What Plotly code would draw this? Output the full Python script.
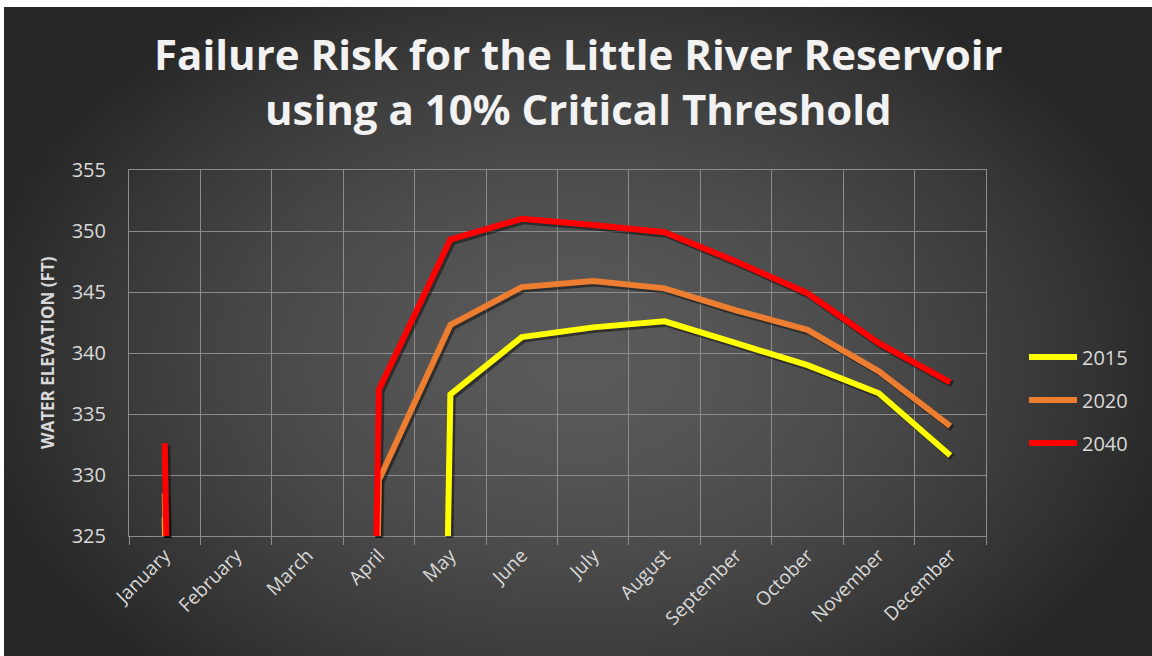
import base64
import struct
import zlib

import numpy as np
import plotly.graph_objects as go

# ---- data -------------------------------------------------------------
months = ["January", "February", "March", "April", "May", "June", "July",
          "August", "September", "October", "November", "December"]
elev_2015 = [326.5, 0, 0, 0, 336.6, 341.3, 342.1, 342.6, 340.8, 339.0, 336.7, 331.6]
elev_2020 = [328.5, 0, 0, 329.6, 342.3, 345.4, 345.9, 345.3, 343.5, 341.9, 338.5, 334.0]
elev_2040 = [332.6, 0, 0, 337.0, 349.3, 351.0, 350.5, 349.9, 347.5, 344.9, 340.8, 337.6]
series = [("2015", elev_2015, "#ffff00"),
          ("2020", elev_2020, "#ed7d31"),
          ("2040", elev_2040, "#ff0000")]

W, H = 1152, 656
PLOT_L, PLOT_R, PLOT_T, PLOT_B = 129, 986, 170, 536
SHADOW = 2  # drop-shadow offset in px


# ---- radial dark background as an inline PNG ---------------------------
def gray_png(arr):
    h, w = arr.shape
    a = arr.astype(np.int16)
    diff = np.empty_like(a)
    diff[:, 0] = a[:, 0]
    diff[:, 1:] = a[:, 1:] - a[:, :-1]
    filt = (diff % 256).astype(np.uint8)
    raw = b"".join(b"\x01" + row.tobytes() for row in filt)

    def chunk(tag, data):
        return (struct.pack(">I", len(data)) + tag + data +
                struct.pack(">I", zlib.crc32(tag + data) & 0xFFFFFFFF))

    ihdr = struct.pack(">IIBBBBB", w, h, 8, 0, 0, 0, 0)
    return (b"\x89PNG\r\n\x1a\n" + chunk(b"IHDR", ihdr) +
            chunk(b"IDAT", zlib.compress(raw, 9)) + chunk(b"IEND", b""))


yy, xx = np.mgrid[0:H, 0:W].astype(float)
r = np.sqrt(((xx - 576) / 620.0) ** 2 + ((yy - 360) / 430.0) ** 2)
bg = 38 + 52 * np.clip(1 - r ** 1.6, 0, 1)
bg = np.clip(bg, 0, 255).astype(np.uint8)
bg[:7, :] = 255
bg[:, :4] = 255
bg_uri = "data:image/png;base64," + base64.b64encode(gray_png(bg)).decode()

# ---- figure -------------------------------------------------------------
fig = go.Figure()

# frame / grid subplot (xy) gets an empty trace so the month categories exist
fig.add_trace(go.Scatter(x=months, y=[None] * len(months), showlegend=False,
                         hoverinfo="skip", xaxis="x", yaxis="y"))

# soft drop shadows on an offset copy of the axes (x2/y2)
for name, vals, color in series:
    fig.add_trace(go.Scatter(
        x=months, y=vals, mode="lines", showlegend=False, hoverinfo="skip",
        line=dict(color="rgba(0,0,0,0.45)", width=7, simplify=False),
        xaxis="x2", yaxis="y2",
    ))

# the series themselves (x3/y3, same placement as the frame)
for name, vals, color in series:
    fig.add_trace(go.Scatter(
        x=months, y=vals, name=name, mode="lines",
        line=dict(color=color, width=6, simplify=False),
        legendgroup=name, xaxis="x3", yaxis="y3",
    ))

grid = "#8c8c8c"
tick_color = "#d9d9d9"
xdom = [PLOT_L / W, PLOT_R / W]
ydom = [1 - PLOT_B / H, 1 - PLOT_T / H]
xdom_s = [(PLOT_L + SHADOW) / W, (PLOT_R + SHADOW) / W]
ydom_s = [1 - (PLOT_B + SHADOW) / H, 1 - (PLOT_T + SHADOW) / H]

hidden_x = dict(type="category", range=[-0.5, 11.5], visible=False, fixedrange=True)
hidden_y = dict(range=[325, 355], visible=False, fixedrange=True)

fig.update_layout(
    width=W, height=H,
    margin=dict(l=0, r=0, t=0, b=0, autoexpand=False),
    paper_bgcolor="#2b2b2b",
    plot_bgcolor="rgba(0,0,0,0)",
    images=[dict(source=bg_uri, xref="paper", yref="paper", x=0, y=1,
                 sizex=1, sizey=1, xanchor="left", yanchor="top",
                 sizing="stretch", layer="below")],
    title=dict(
        text="Failure Risk for the Little River Reservoir<br>using a 10% Critical Threshold",
        font=dict(family="Open Sans", size=42, color="#f2f2f2", weight="bold"),
        x=0.502, xanchor="center", y=1 - 70 / H, yanchor="middle",
    ),
    xaxis=dict(
        domain=xdom, anchor="y",
        type="category", range=[-0.5, 11.5],
        tickson="boundaries", ticks="outside", ticklen=8, tickcolor=grid,
        showgrid=True, gridcolor=grid, gridwidth=1,
        showline=True, linecolor=grid, mirror=True,
        tickangle=-45, tickfont=dict(family="Open Sans", size=19, color=tick_color),
        fixedrange=True,
    ),
    yaxis=dict(
        domain=ydom, anchor="x",
        range=[325, 355], dtick=5, tick0=325,
        showgrid=True, gridcolor=grid, gridwidth=1,
        showline=True, linecolor=grid, mirror=True,
        ticks="", ticklabelstandoff=18,
        tickfont=dict(family="Open Sans", size=20, color=tick_color),
        zeroline=False, fixedrange=True,
    ),
    xaxis2=dict(hidden_x, domain=xdom_s, anchor="y2"),
    yaxis2=dict(hidden_y, domain=ydom_s, anchor="x2"),
    xaxis3=dict(hidden_x, domain=xdom, anchor="y3"),
    yaxis3=dict(hidden_y, domain=ydom, anchor="x3"),
    legend=dict(
        x=1024 / W, y=1 - 400 / H, xanchor="left", yanchor="middle",
        font=dict(family="Open Sans", size=20, color=tick_color),
        bgcolor="rgba(0,0,0,0)", tracegroupgap=14, itemwidth=48,
    ),
    annotations=[dict(
        text="<b>WATER ELEVATION (FT)</b>", textangle=-90,
        xref="paper", yref="paper", x=47 / W, y=1 - 353 / H,
        xanchor="center", yanchor="middle", showarrow=False,
        font=dict(family="Open Sans", size=17, color=tick_color),
    )],
)

fig.write_html("out.html")
